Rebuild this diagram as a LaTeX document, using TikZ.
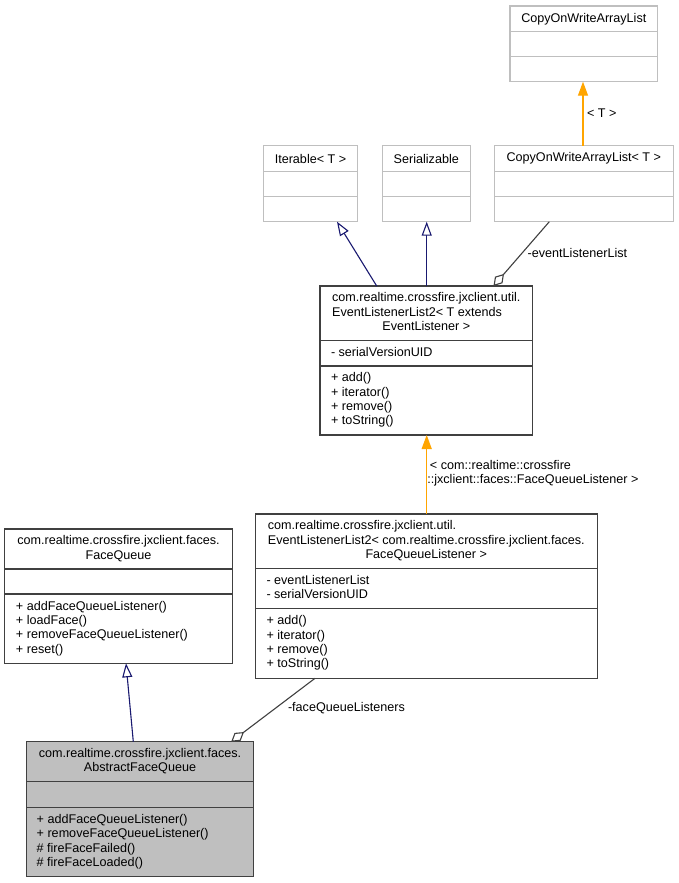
\documentclass[tikz,border=0pt]{standalone}
\usepackage{fontspec}
\setmainfont{Liberation Sans}
\usetikzlibrary{arrows.meta}
\definecolor{edgeblue}{HTML}{191970}
\definecolor{edgeorange}{HTML}{FFA500}
\definecolor{edgegrey}{HTML}{404040}
\definecolor{boxgrey}{HTML}{BFBFBF}
\definecolor{boxdark}{HTML}{404040}
\newcommand\umlbox[8]{%
  \node[#2, anchor=north west, minimum width={#5-#3}, minimum height={#6-#4}] (#1) at (#3,#4) {};
  \draw[#2 line] (#3,#7) -- (#5,#7) (#3,#8) -- (#5,#8);
}
\begin{document}
\begin{tikzpicture}[x=1pt,y=-1pt,
  every node/.style={font=\fontsize{12.6}{14.3}\selectfont, inner sep=0pt, outer sep=0pt},
  clsbox/.style={draw=boxdark, line width=1.1pt, rectangle},
  clsbox line/.style={draw=boxdark, line width=1.1pt},
  extbox/.style={draw=boxgrey, line width=1.4pt, rectangle},
  extbox line/.style={draw=boxgrey, line width=1.4pt},
  curbox/.style={draw=boxdark, fill=boxgrey, line width=1.1pt, rectangle},
  curbox line/.style={draw=boxdark, line width=1.1pt},
  gen/.style={draw=edgeblue, line width=1.1pt, -{Triangle[open, length=14pt, width=10pt, fill=white]}},
  tmpl/.style={draw=edgeorange, line width=1.3pt, -{Triangle[length=14pt, width=10pt]}, fill=edgeorange},
  agg/.style={draw=edgegrey, line width=1.1pt, -{Diamond[open, length=16pt, width=10pt, fill=white]}},
  lbl/.style={anchor=west, text=black},
]
\useasboundingbox[fill=white] (0,0) rectangle (679,883);

% top CopyOnWriteArrayList
\umlbox{cowal}{extbox}{510}{6}{657.7}{81.7}{31.7}{56.7}
\node at (583.8,18.9) {CopyOnWriteArrayList};

% Iterable
\umlbox{iter}{extbox}{263.3}{145.7}{357.7}{221.7}{171.3}{196.7}
\node at (310.5,158.5) {Iterable< T >};

% Serializable
\umlbox{ser}{extbox}{382.3}{145.7}{470.3}{221.7}{171.3}{196.7}
\node at (426.3,158.5) {Serializable};

% CopyOnWriteArrayList< T >
\umlbox{cowalT}{extbox}{494.3}{145.7}{673.3}{221.7}{171.3}{196.7}
\node at (583.8,158.5) {CopyOnWriteArrayList< T >};

% EventListenerList2< T extends EventListener >
\umlbox{elT}{clsbox}{320}{286}{532.7}{435}{340.7}{366}
\node at (426.3,313.3) {\begin{tabular}{@{}l@{}}com.realtime.crossfire.jxclient.util.\\EventListenerList2< T extends\\\multicolumn{1}{@{}c@{}}{EventListener >}\end{tabular}};
\node[anchor=west] at (331,353.3) {\begin{tabular}{@{}l@{}}- serialVersionUID\end{tabular}};
\node[anchor=west] at (331,400.5) {\begin{tabular}{@{}l@{}}+ add()\\+ iterator()\\+ remove()\\+ toString()\end{tabular}};

% EventListenerList2< FaceQueueListener >
\umlbox{elF}{clsbox}{255.3}{514}{597.3}{678.3}{568.7}{608.3}
\node at (426.3,541.3) {\begin{tabular}{@{}l@{}}com.realtime.crossfire.jxclient.util.\\EventListenerList2< com.realtime.crossfire.jxclient.faces.\\\multicolumn{1}{@{}c@{}}{FaceQueueListener >}\end{tabular}};
\node[anchor=west] at (266.5,588.5) {\begin{tabular}{@{}l@{}}- eventListenerList\\- serialVersionUID\end{tabular}};
\node[anchor=west] at (266.5,643.3) {\begin{tabular}{@{}l@{}}+ add()\\+ iterator()\\+ remove()\\+ toString()\end{tabular}};

% FaceQueue
\umlbox{fq}{clsbox}{4.7}{529}{232.3}{663.3}{569}{594}
\node at (118.5,549) {\begin{tabular}{@{}l@{}}com.realtime.crossfire.jxclient.faces.\\\multicolumn{1}{@{}c@{}}{FaceQueue}\end{tabular}};
\node[anchor=west] at (16,628.7) {\begin{tabular}{@{}l@{}}+ addFaceQueueListener()\\+ loadFace()\\+ removeFaceQueueListener()\\+ reset()\end{tabular}};

% AbstractFaceQueue
\umlbox{afq}{curbox}{26.7}{741.7}{253.3}{876.7}{781.7}{807.3}
\node at (140,761.7) {\begin{tabular}{@{}l@{}}com.realtime.crossfire.jxclient.faces.\\\multicolumn{1}{@{}c@{}}{AbstractFaceQueue}\end{tabular}};
\node[anchor=west] at (36.7,842) {\begin{tabular}{@{}l@{}}+ addFaceQueueListener()\\+ removeFaceQueueListener()\\\# fireFaceFailed()\\\# fireFaceLoaded()\end{tabular}};

% connectors
\draw[tmpl] ([xshift=88.7pt]cowalT.north west) -- ([xshift=73pt]cowal.south west);
\draw[gen] ([xshift=56.7pt]elT.north west) -- ([xshift=73.7pt]iter.south west);
\draw[gen] ([xshift=106.7pt]elT.north west) -- ([xshift=44.4pt]ser.south west);
\draw[agg] ([xshift=55pt]cowalT.south west) -- ([xshift=173.5pt]elT.north west);
\draw[tmpl] ([xshift=171.4pt]elF.north west) -- ([xshift=106.7pt]elT.south west);
\draw[gen] ([xshift=106.6pt]afq.north west) -- ([xshift=121.3pt]fq.south west);
\draw[agg] ([xshift=59.7pt]elF.south west) -- ([xshift=204.5pt]afq.north west);

% labels
\node[lbl] (lT) at (587,113.3) {< T >};
\node[lbl] (lEL) at (527.7,252.7) {-eventListenerList};
\node[lbl] (lFQL) at (427.3,473.7) {\begin{tabular}{@{}l@{}}\hspace{2.6pt}< com::realtime::crossfire\\::jxclient::faces::FaceQueueListener >\end{tabular}};
\node[lbl] (lFQ) at (288,708.3) {-faceQueueListeners};
\end{tikzpicture}
\end{document}
